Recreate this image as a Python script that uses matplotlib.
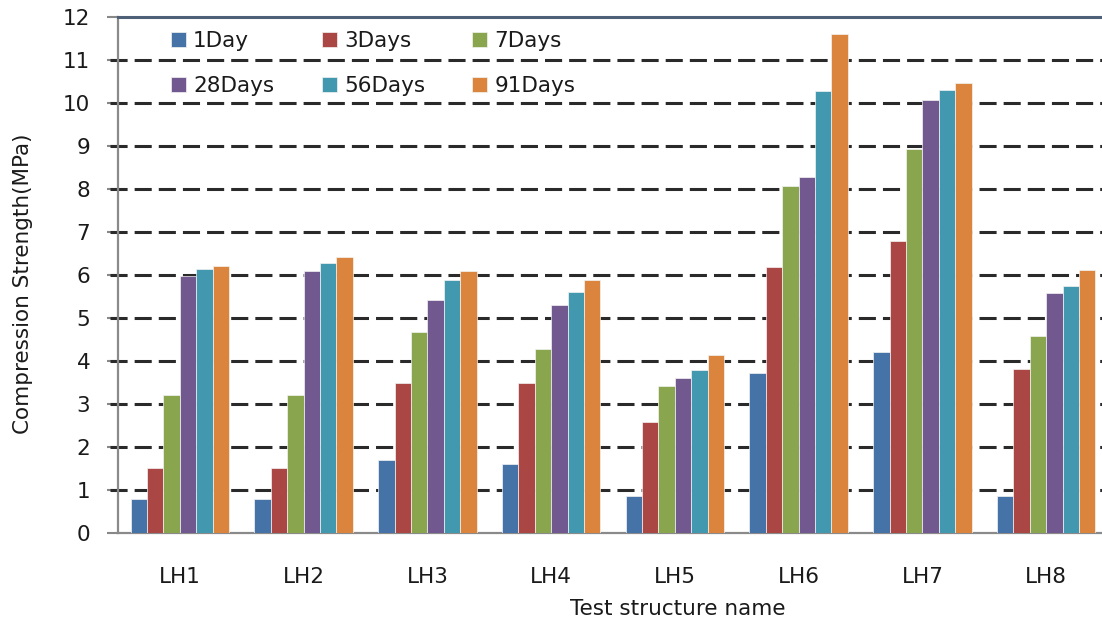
import matplotlib
matplotlib.use("Agg")
import matplotlib.pyplot as plt
import numpy as np

categories = ["LH1", "LH2", "LH3", "LH4", "LH5", "LH6", "LH7", "LH8"]
series_names = ["1Day", "3Days", "7Days", "28Days", "56Days", "91Days"]
day1 = [0.78, 0.78, 1.70, 1.60, 0.87, 3.71, 4.20, 0.87]
day3 = [1.51, 1.51, 3.50, 3.50, 2.58, 6.19, 6.80, 3.82]
day7 = [3.22, 3.22, 4.67, 4.29, 3.41, 8.08, 8.92, 4.58]
day28 = [5.98, 6.09, 5.41, 5.31, 3.60, 8.28, 10.07, 5.59]
day56 = [6.14, 6.28, 5.89, 5.60, 3.80, 10.29, 10.31, 5.74]
day91 = [6.22, 6.43, 6.09, 5.89, 4.14, 11.60, 10.46, 6.11]
colors = ["#4572A7", "#AA4643", "#89A54E", "#71588F", "#4198AF", "#DB843D"]
yticks = list(range(0, 13))

plt.rcParams['font.family'] = ['DejaVu Sans']
FS = 15.5
TXT = '#1a1a1a'

fig = plt.figure(figsize=(11.02, 6.23), dpi=100)
ax = fig.add_axes([118/1102, 90/623, 990/1102, 516/623])

data = [day1, day3, day7, day28, day56, day91]
x = np.arange(len(categories))
n = len(data)
bw = 0.795 / n
handles = []
for i, (vals, c, name) in enumerate(zip(data, colors, series_names)):
    h = ax.bar(x - 0.795/2 + bw*(i+0.5), vals, width=bw, color=c, label=name,
               edgecolor='#f4f4f4', linewidth=0.5, zorder=3)
    handles.append(h)

ax.set_xlim(-0.5, len(categories) - 0.5)
ax.set_ylim(0, 12)
ax.set_yticks(yticks)
ax.set_yticklabels([str(t) for t in yticks], fontsize=FS, color=TXT)
for v in yticks[1:-1]:
    ax.axhline(v, color='#2a2a2a', linestyle=(0, (5.6, 2.3)), linewidth=2.2, zorder=2,
               xmin=-0.008, clip_on=False)
ax.set_xticks(x)
ax.set_xticklabels(categories, fontsize=FS, color=TXT)
ax.tick_params(axis='x', length=0, pad=24.5)
ax.tick_params(axis='y', length=8, color='#888888', width=1.5, pad=12, direction='out')

for s in ['left', 'bottom']:
    ax.spines[s].set_color('#8a8a8a')
    ax.spines[s].set_linewidth(1.6)
ax.spines['right'].set_visible(False)
ax.spines['top'].set_color('#4f6178')
ax.spines['top'].set_linewidth(2.2)

ax.set_xlabel("Test structure name", fontsize=FS, color=TXT)
ax.xaxis.set_label_coords((678 - 118) / 990, (533 - 599) / 516)
ax.set_ylabel("Compression Strength(MPa)", fontsize=FS, color=TXT)
ax.yaxis.set_label_coords((33 - 118) / 990, (533 - 284) / 516)

# legend: row-wise order (1Day 3Days 7Days / 28Days 56Days 91Days)
order = [0, 3, 1, 4, 2, 5]
leg = ax.legend([handles[k] for k in order], [series_names[k] for k in order],
                ncol=3, loc='upper left', bbox_to_anchor=(53/990, 0.973),
                frameon=False, fontsize=FS, handlelength=0.7, handleheight=0.7,
                handletextpad=0.33, columnspacing=2.2, labelspacing=1.18,
                borderpad=0, borderaxespad=0)
for t in leg.get_texts():
    t.set_color(TXT)

fig.savefig("out.png", dpi=100)
